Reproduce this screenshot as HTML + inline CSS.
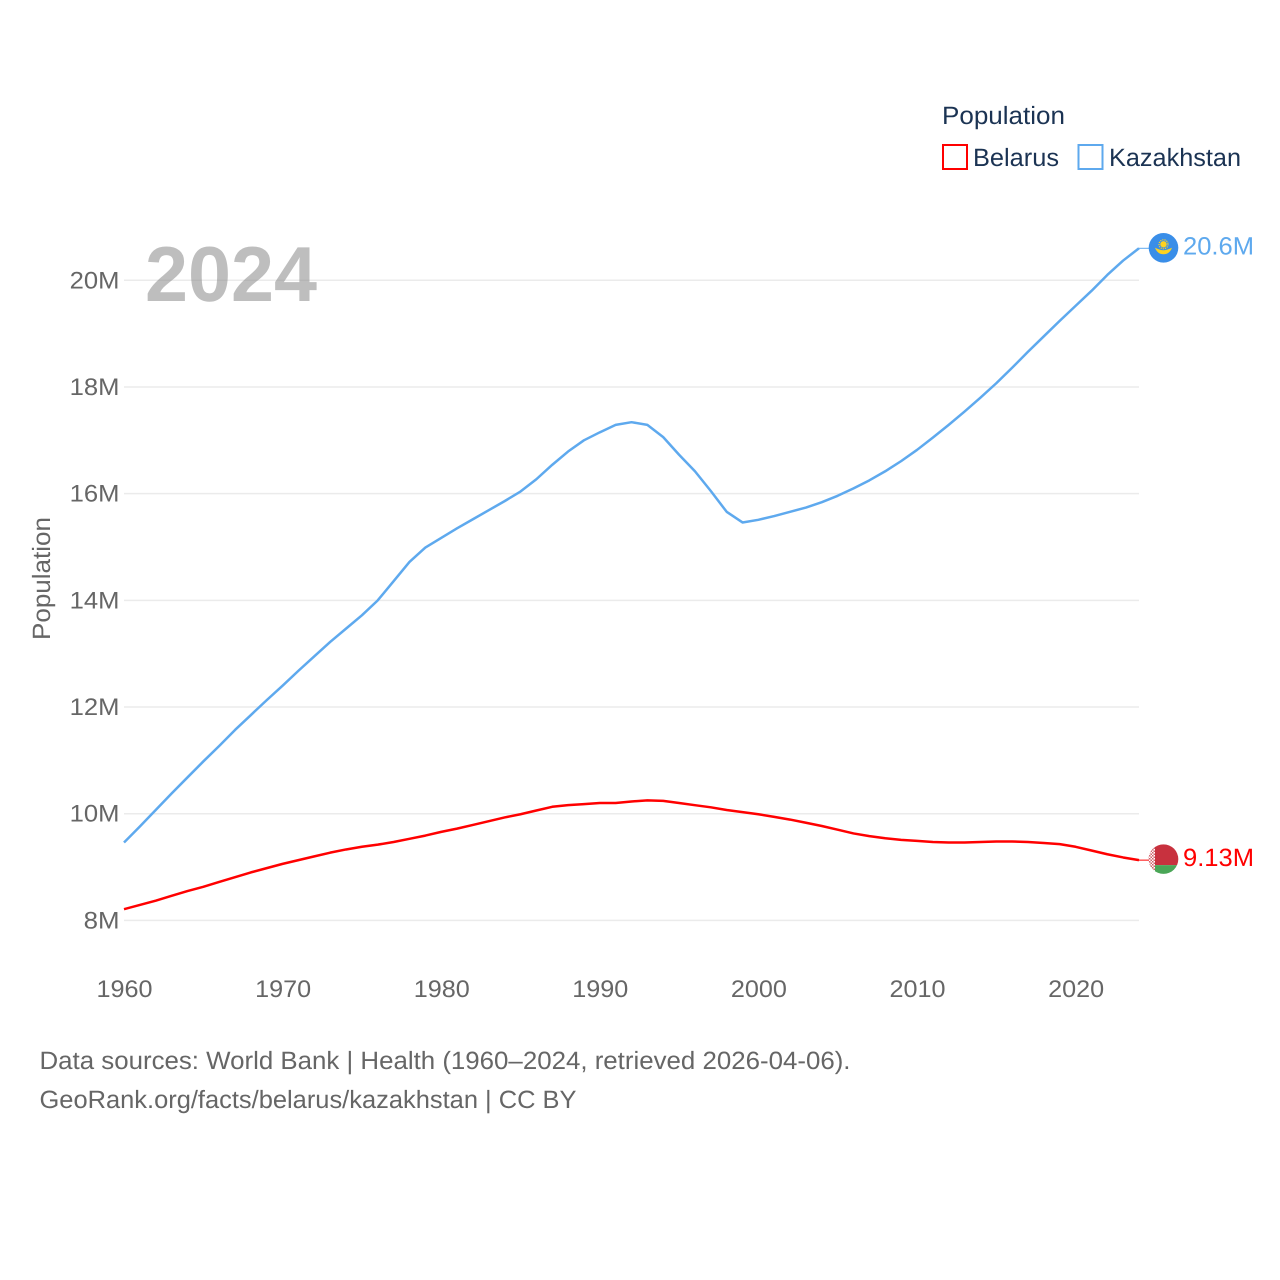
<!DOCTYPE html>
<html lang="en">
<head>
<meta charset="utf-8">
<title>Population: Belarus and Kazakhstan</title>
<style>
html,body{margin:0;padding:0;background:#fff;}
svg{display:block;font-family:"Liberation Sans",sans-serif;}
</style>
</head>
<body>
<svg id="chart" width="1280" height="1280" viewBox="0 0 1280 1280" xmlns="http://www.w3.org/2000/svg" text-rendering="geometricPrecision">
  <rect width="1280" height="1280" fill="#fff"/>
  <g id="grid"></g>
  <text x="145" y="301" font-size="78" font-weight="700" fill="#888" fill-opacity="0.55" textLength="172" lengthAdjust="spacingAndGlyphs">2024</text>
  <g id="yticks"></g>
  <g id="xticks"></g>
  <text transform="translate(50,640) rotate(-90)" font-size="25" fill="#666" textLength="123" lengthAdjust="spacingAndGlyphs">Population</text>
  <g id="series"></g>

  <g>
    <text x="942" y="124" font-size="25" fill="#1b3353" textLength="123" lengthAdjust="spacingAndGlyphs">Population</text>
    <g>
      <rect x="943" y="145" width="24" height="24" fill="#fff" stroke="#ff0000" stroke-width="2"/>
      <text x="973" y="166" font-size="25" fill="#1b3353" textLength="86" lengthAdjust="spacingAndGlyphs">Belarus</text>
    </g>
    <g>
      <rect x="1078.500" y="145" width="24" height="24" fill="#fff" stroke="#5ea9ee" stroke-width="2"/>
      <text x="1109" y="166" font-size="25" fill="#1b3353" textLength="132" lengthAdjust="spacingAndGlyphs">Kazakhstan</text>
    </g>
  </g>

  <g font-size="25" fill="#666">
    <text x="39.500" y="1069" textLength="811" lengthAdjust="spacingAndGlyphs">Data sources: World Bank | Health (1960–2024, retrieved 2026-04-06).</text>
    <text x="39.500" y="1108" textLength="537" lengthAdjust="spacingAndGlyphs">GeoRank.org/facts/belarus/kazakhstan | CC BY</text>
  </g>

  <defs>
    <clipPath id="by-clip"><circle id="by-clip-circle" r="14.800"/></clipPath>
    <pattern id="by-ornament" width="3" height="3" patternUnits="userSpaceOnUse">
      <rect width="3" height="3" fill="#fff"/>
      <rect width="1.500" height="1.500" fill="#d0606a"/>
      <rect x="1.500" y="1.500" width="1.500" height="1.500" fill="#d0606a"/>
    </pattern>
  </defs>
  <g id="end-markers"></g>
</svg>
<script>
const years = [1960,1961,1962,1963,1964,1965,1966,1967,1968,1969,1970,1971,1972,1973,1974,1975,1976,1977,1978,1979,1980,1981,1982,1983,1984,1985,1986,1987,1988,1989,1990,1991,1992,1993,1994,1995,1996,1997,1998,1999,2000,2001,2002,2003,2004,2005,2006,2007,2008,2009,2010,2011,2012,2013,2014,2015,2016,2017,2018,2019,2020,2021,2022,2023,2024];
const kazakhstanValues = [9.46,9.76,10.07,10.38,10.68,10.98,11.27,11.57,11.85,12.13,12.40,12.68,12.95,13.22,13.47,13.72,14.00,14.36,14.72,14.99,15.17,15.35,15.52,15.69,15.86,16.04,16.27,16.54,16.79,17.00,17.15,17.29,17.34,17.29,17.06,16.73,16.42,16.05,15.66,15.46,15.51,15.58,15.66,15.74,15.84,15.96,16.10,16.25,16.42,16.61,16.82,17.05,17.29,17.54,17.80,18.07,18.36,18.66,18.95,19.24,19.52,19.80,20.10,20.37,20.60];
const belarusValues = [8.21,8.29,8.37,8.46,8.55,8.63,8.72,8.81,8.90,8.98,9.06,9.13,9.20,9.27,9.33,9.38,9.42,9.47,9.53,9.59,9.66,9.72,9.79,9.86,9.93,9.99,10.06,10.13,10.16,10.18,10.20,10.20,10.23,10.25,10.24,10.20,10.16,10.12,10.07,10.03,9.99,9.94,9.89,9.83,9.77,9.70,9.63,9.58,9.54,9.51,9.49,9.47,9.46,9.46,9.47,9.48,9.48,9.47,9.45,9.43,9.38,9.31,9.24,9.18,9.13];
const yTickValues = [8,10,12,14,16,18,20];
const yTickLabels = ["8M","10M","12M","14M","16M","18M","20M"];
const xTickYears = [1960,1970,1980,1990,2000,2010,2020];
const latestLabels = ["9.13M","20.6M"];

const NS = "http://www.w3.org/2000/svg";
const xLeft = 124, xRight = 1139, yAt8 = 920.4, yAt20 = 280.3;
const xScale = function (year) { return xLeft + (year - 1960) * (xRight - xLeft) / 64; };
const yScale = function (value) { return yAt8 + (value - 8) * (yAt20 - yAt8) / 12; };

function make(tag, attrs, parent) {
  const el = document.createElementNS(NS, tag);
  for (const key in attrs) { el.setAttribute(key, attrs[key]); }
  parent.appendChild(el);
  return el;
}

const gridGroup = document.getElementById("grid");
const yGroup = document.getElementById("yticks");
yTickValues.forEach(function (value, i) {
  const line = make("line", {x1: xLeft, x2: xRight, y1: yScale(value), y2: yScale(value), stroke: "#ebebeb", "stroke-width": 1.500}, gridGroup);
  
  
  const label = yTickLabels[i];
  const tick = make("text", {x: 119.5, y: yScale(value) + 8, "text-anchor": "end", "font-size": 24, fill: "#666", textLength: (label.length - 1) * 13.9 + 22, lengthAdjust: "spacingAndGlyphs"}, yGroup);
  
  
  tick.textContent = label;
});

const xGroup = document.getElementById("xticks");
xTickYears.forEach(function (year) {
  const tick = make("text", {x: xScale(year) + 0.5, y: 997, "text-anchor": "middle", "font-size": 24, fill: "#666", textLength: 56, lengthAdjust: "spacingAndGlyphs"}, xGroup);
  
  
  tick.textContent = String(year);
});

function pathFor(values) {
  return values.map(function (v, i) {
    return (i ? "L" : "M") + xScale(years[i]).toFixed(2) + " " + yScale(v).toFixed(2);
  }).join("");
}

const seriesGroup = document.getElementById("series");
const belarusLine = make("path", {d: pathFor(belarusValues), fill: "none", stroke: "#ff0000", "stroke-width": 2.500, "stroke-linejoin": "round"}, seriesGroup);


const kazakhstanLine = make("path", {d: pathFor(kazakhstanValues), fill: "none", stroke: "#5ea9ee", "stroke-width": 2.500, "stroke-linejoin": "round"}, seriesGroup);



const markerGroup = document.getElementById("end-markers");
const markerX = 1163.5;
const endX = xScale(years[years.length - 1]);
const byY = yScale(belarusValues[belarusValues.length - 1]);
const kzY = yScale(kazakhstanValues[kazakhstanValues.length - 1]);

const byLeader = make("line", {x1: endX, x2: markerX - 14, y1: byY, y2: byY, stroke: "#ff0000", "stroke-width": 1}, markerGroup);


const kzLeader = make("line", {x1: endX, x2: markerX - 14, y1: kzY, y2: kzY, stroke: "#5ea9ee", "stroke-width": 1}, markerGroup);



/* Belarus flag marker */
document.getElementById("by-clip-circle").setAttribute("cx", markerX);
document.getElementById("by-clip-circle").setAttribute("cy", byY - 1);
const byFlag = make("g", {"clip-path": "url(#by-clip)"}, markerGroup);


make("rect", {x: markerX - 15, y: byY - 16, width: 30, height: 21, fill: "#c8313e"}, byFlag);
make("rect", {x: markerX - 15, y: byY + 5, width: 30, height: 10, fill: "#4aa657"}, byFlag);
make("rect", {x: markerX - 15, y: byY - 16, width: 6.500, height: 31, fill: "url(#by-ornament)"}, byFlag);

/* Kazakhstan flag marker */
const kzFlag = make("g", {}, markerGroup);


make("circle", {cx: markerX, cy: kzY - 0.5, r: 14.800, fill: "#3a8ee8"}, kzFlag);
make("circle", {cx: markerX, cy: kzY - 4, r: 3.200, fill: "#ffd21f"}, kzFlag);
make("circle", {cx: markerX, cy: kzY - 4, r: 4.500, fill: "none", stroke: "#ffd21f", "stroke-width": 1.200, "stroke-dasharray": "1.200 1"}, kzFlag);
make("path", {d: "M" + (markerX - 8.5) + " " + (kzY - 0.5) + "Q" + (markerX - 3) + " " + (kzY + 2) + " " + markerX + " " + (kzY + 2) + "Q" + (markerX + 3) + " " + (kzY + 2) + " " + (markerX + 8.5) + " " + (kzY - 0.5) + "Q" + (markerX + 6) + " " + (kzY + 6) + " " + markerX + " " + (kzY + 6) + "Q" + (markerX - 6) + " " + (kzY + 6) + " " + (markerX - 8.5) + " " + (kzY - 0.5) + "Z", fill: "#ffd21f"}, kzFlag);

const byValue = make("text", {x: 1183, y: byY + 6, "font-size": 25, fill: "#ff0000", textLength: 71, lengthAdjust: "spacingAndGlyphs"}, markerGroup);


byValue.textContent = latestLabels[0];
const kzValue = make("text", {x: 1183, y: kzY + 6, "font-size": 25, fill: "#5ea9ee", textLength: 71, lengthAdjust: "spacingAndGlyphs"}, markerGroup);


kzValue.textContent = latestLabels[1];
</script>
</body>
</html>
